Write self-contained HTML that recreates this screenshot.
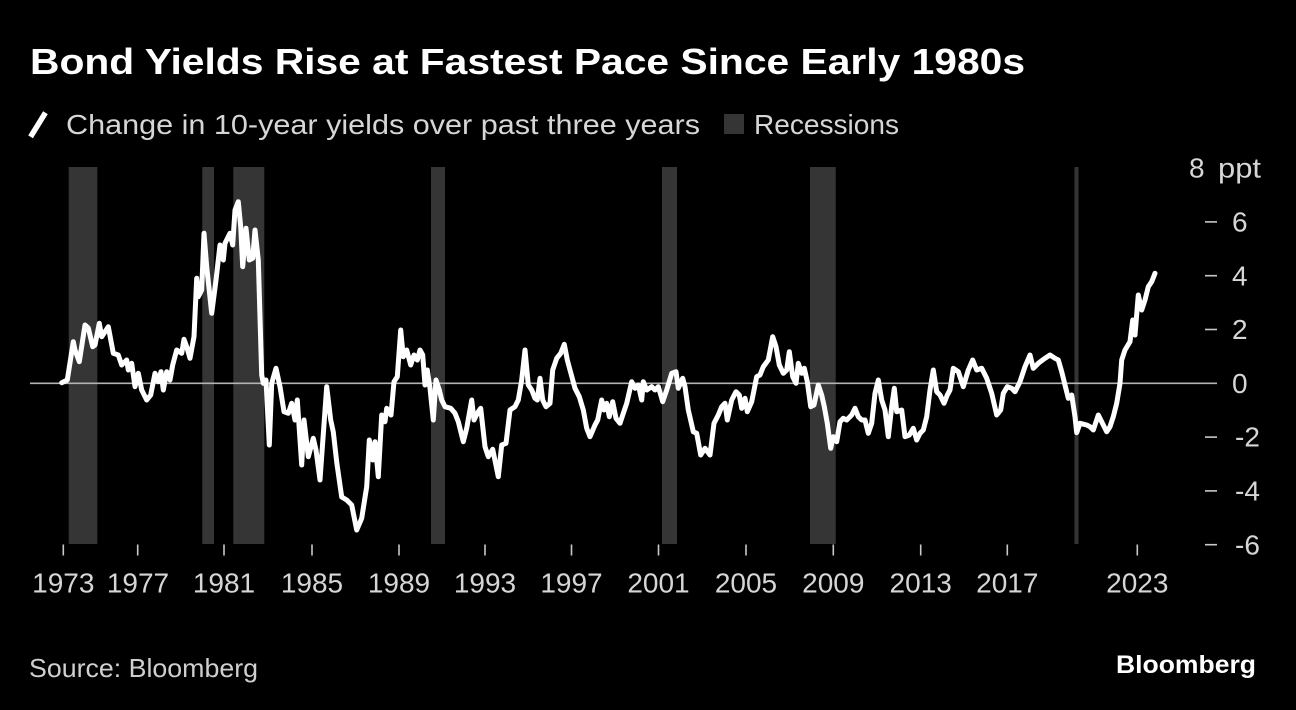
<!DOCTYPE html>
<html>
<head>
<meta charset="utf-8">
<style>
  html, body { margin:0; padding:0; background:#000; }
  body { width:1296px; height:710px; overflow:hidden; }
  svg { display:block; }
  text { font-family: "Liberation Sans", sans-serif; }
</style>
</head>
<body>
<svg width="1296" height="710" viewBox="0 0 1296 710" xmlns="http://www.w3.org/2000/svg">
  <rect x="0" y="0" width="1296" height="710" fill="#000"/>

  <!-- Title -->
  <text x="30" y="74" font-size="36" font-weight="bold" fill="#ffffff" textLength="995" lengthAdjust="spacingAndGlyphs">Bond Yields Rise at Fastest Pace Since Early 1980s</text>

  <!-- Legend -->
  <line x1="32" y1="134.5" x2="44" y2="115" stroke="#fff" stroke-width="5.5" stroke-linecap="square"/>
  <text x="66" y="134" font-size="28" fill="#d6d6d6" textLength="634" lengthAdjust="spacingAndGlyphs">Change in 10-year yields over past three years</text>
  <rect x="724" y="114" width="20" height="20" fill="#353535"/>
  <text x="754" y="134" font-size="28" fill="#d6d6d6" textLength="145" lengthAdjust="spacingAndGlyphs">Recessions</text>

  <!-- Recession bars -->
  <g fill="#353535">
    <rect x="68.7" y="167" width="28.6" height="377"/>
    <rect x="202.3" y="167" width="11.7" height="377"/>
    <rect x="233.3" y="167" width="31" height="377"/>
    <rect x="431" y="167" width="14" height="377"/>
    <rect x="662" y="167" width="15" height="377"/>
    <rect x="810" y="167" width="25.7" height="377"/>
    <rect x="1074.5" y="167" width="4" height="377"/>
  </g>

  <!-- Zero line -->
  <line x1="30" y1="383.3" x2="1217" y2="383.3" stroke="#b4b4b4" stroke-width="1.6"/>

  <!-- Y axis ticks + labels -->
  <g stroke="#c8c8c8" stroke-width="1.6">
    <line x1="1205" y1="221.9" x2="1217" y2="221.9"/>
    <line x1="1205" y1="275.7" x2="1217" y2="275.7"/>
    <line x1="1205" y1="329.5" x2="1217" y2="329.5"/>
    <line x1="1205" y1="437.1" x2="1217" y2="437.1"/>
    <line x1="1205" y1="490.9" x2="1217" y2="490.9"/>
    <line x1="1205" y1="544.7" x2="1217" y2="544.7"/>
  </g>
  <g font-size="28" fill="#d6d6d6">
    <text x="1189" y="177.5">8</text>
    <text x="1218" y="177.5" textLength="43" lengthAdjust="spacingAndGlyphs">ppt</text>
    <text x="1232" y="231.5">6</text>
    <text x="1232" y="285.3">4</text>
    <text x="1232" y="339.1">2</text>
    <text x="1232" y="392.9">0</text>
    <text x="1235" y="446.7">-2</text>
    <text x="1235" y="500.5">-4</text>
    <text x="1235" y="554.3">-6</text>
  </g>

  <!-- X axis ticks -->
  <g stroke="#c8c8c8" stroke-width="1.6">
    <line x1="63.3" y1="544.5" x2="63.3" y2="555.5"/>
    <line x1="137.7" y1="544.5" x2="137.7" y2="555.5"/>
    <line x1="224" y1="544.5" x2="224" y2="555.5"/>
    <line x1="312" y1="544.5" x2="312" y2="555.5"/>
    <line x1="399" y1="544.5" x2="399" y2="555.5"/>
    <line x1="485" y1="544.5" x2="485" y2="555.5"/>
    <line x1="571.5" y1="544.5" x2="571.5" y2="555.5"/>
    <line x1="658.5" y1="544.5" x2="658.5" y2="555.5"/>
    <line x1="746" y1="544.5" x2="746" y2="555.5"/>
    <line x1="833.3" y1="544.5" x2="833.3" y2="555.5"/>
    <line x1="920.7" y1="544.5" x2="920.7" y2="555.5"/>
    <line x1="1007.3" y1="544.5" x2="1007.3" y2="555.5"/>
    <line x1="1137.3" y1="544.5" x2="1137.3" y2="555.5"/>
  </g>
  <g font-size="28" fill="#d6d6d6" text-anchor="middle">
    <text x="63.3" y="592.5">1973</text>
    <text x="138" y="592.5">1977</text>
    <text x="224" y="592.5">1981</text>
    <text x="312" y="592.5">1985</text>
    <text x="399" y="592.5">1989</text>
    <text x="485" y="592.5">1993</text>
    <text x="571.5" y="592.5">1997</text>
    <text x="658.5" y="592.5">2001</text>
    <text x="746" y="592.5">2005</text>
    <text x="833.3" y="592.5">2009</text>
    <text x="920.7" y="592.5">2013</text>
    <text x="1007.3" y="592.5">2017</text>
    <text x="1137.3" y="592.5">2023</text>
  </g>

  <!-- Series -->
  <polyline fill="none" stroke="#ffffff" stroke-width="5" stroke-linejoin="round" stroke-linecap="round"
    points="61.7,382.7 67.3,380 73.3,341.7 75,350 79.3,361.7 85,325 88.3,328 92.7,346.7 95,345 99.3,323.3 101.7,336.7 108.3,326.7 113.3,353.3 118.3,355 121.7,365 126.7,360 128.3,370 131.7,363.3 135,386.7 138.3,373.3 141.7,390 146.7,400 150.7,395 155,373.3 158.3,381.7 161,371.7 163.3,390 166.7,371.7 170,380 172.7,365 176.7,350 181.7,353.3 184,339.3 186.7,346.7 190,358.3 194,336.7 196.7,278.3 198.3,296.7 201.7,290 204,233.3 206.7,266.7 211.7,313.3 216,280 220,245 223.3,260 225,243.3 230,233.3 232.7,245 235,210 238.3,201.7 240.7,226.7 242.7,266.7 246,228.3 249.3,260 252.7,258.3 255,230 258.3,260 261.7,375 263.3,383.3 266,380 269.3,445 271.7,383.3 276,368.3 280,386.7 284,411.7 288.3,413.3 291.7,403.3 295,420 297.3,400 301.7,465 304,420 308.3,456.7 313.3,438.3 316,450 320,480 326.7,386.7 330.7,420 333.3,432 336.7,462 338.3,473.3 341.7,497 346.7,500 351.7,505 356.7,530 361.7,518.3 366.7,486.7 369.3,440 372.7,460 375,441.7 378.3,476.7 381.7,415 385,421.7 386.7,408.3 391,415 394,381.7 397.3,376.7 400.7,330 403.3,356.7 406.7,350 410.7,365 414,355 417.3,360 420,350 422.7,355 425,385 427.3,370 430,388.3 433.3,420 436,380 439.3,390 441.7,400 445,406.7 450.7,408.3 455,413.3 458.3,421.7 463.3,441.7 466.7,428.3 471.7,400 474,420 477.3,413.3 480.7,408.3 485,446.7 488.3,456.7 492.7,449.3 498.3,476.7 501.7,445 506,443.3 510,410 515,406.7 518.3,400 521.7,380 525,350 528.3,385 531.7,390 535,398.3 537.3,400 540,378.3 542.7,400 546,406.7 550,403.3 552.7,370 556.7,358.3 560.7,353.3 564.3,344.3 567.3,360 570,370 575,388.3 579.3,396.7 583.3,410 586.7,428.3 590,436.7 595,425 597.7,420 601.7,400 604,410 606.7,403.3 609.3,416.7 612.7,401.7 616,418.3 620,423.3 623.3,413.3 626.7,403.3 631.7,381.7 635,388.3 638.3,385 641.7,400 643.3,381.7 646.7,390 651.7,386.7 655,390 658.3,386.7 662.7,401.7 666.7,390 671.7,373.3 676,371.7 678.3,388.3 682.7,378.3 685,386.7 688.3,410 693.3,431.7 696.7,433.3 700.7,455 705,448.3 710,455 714,423.3 718.3,415 721.7,406.7 725,403.3 727.3,420 731.7,400 736,391.7 739.3,395 741.7,408.3 745,398.3 747.3,411.7 751.7,401.7 756.7,376.7 760,375 763.3,366.7 768.3,360 772.7,336.7 776,346.7 779.3,365 783.3,373.3 786.7,370 789.3,351.7 792.7,376.7 796,383.3 798.3,363.3 801.7,373.3 804.3,368.3 807.3,381.7 810.7,406.7 814,405 818.3,385 821.7,395 824.3,406.7 827.3,423.3 830.7,448.3 833.3,436.7 836.7,441.7 840,421.7 843.3,418.3 846.7,420 851.7,415 855,408.3 858.3,416.7 861.7,420 865,420 868.3,433.3 871.7,423.3 875,393.3 878.3,380 881.7,400 885,410 888.3,436.7 891.7,406.7 894.3,388.3 896.7,411.7 901.7,410 905,436.7 909.3,435 913.3,428.3 916.7,440 920,433.3 923.3,430 926.7,416.7 930,390 933.3,370 936.7,391.7 940,395 944,403.3 947.3,395 950,390 953.3,368.3 958.3,371.7 963.3,386.7 968.3,370 972.7,360 976.7,370 981.7,368.3 986.7,378.3 991.7,393.3 996.7,415 1000.7,410 1003.3,393.3 1007.3,386.7 1011.7,388.3 1015,391.7 1020,381.7 1025,366.7 1030,355 1033.3,368.3 1038.3,363.3 1045,358.3 1050,355 1055,358.3 1058.3,360 1061.7,371.7 1065,385 1068.3,398.3 1071.7,395 1075,416.7 1076.7,432.7 1080,423.3 1086.7,425 1090,426.7 1093.3,430 1098.3,415 1103.3,425 1106.7,431.7 1110,426.7 1113.3,416.7 1116.7,403.3 1120,383.3 1121.7,360 1125,350 1130,341.7 1132.7,320 1135,335 1138.3,295 1141.7,310 1145,300 1148.3,286.7 1151.7,281.7 1155,273.3"/>

  <!-- Footer -->
  <text x="29" y="677" font-size="26" fill="#cfcfcf" textLength="229" lengthAdjust="spacingAndGlyphs">Source: Bloomberg</text>
  <text x="1116" y="673" font-size="25" font-weight="600" fill="#ffffff" textLength="140" lengthAdjust="spacingAndGlyphs">Bloomberg</text>
</svg>
</body>
</html>
